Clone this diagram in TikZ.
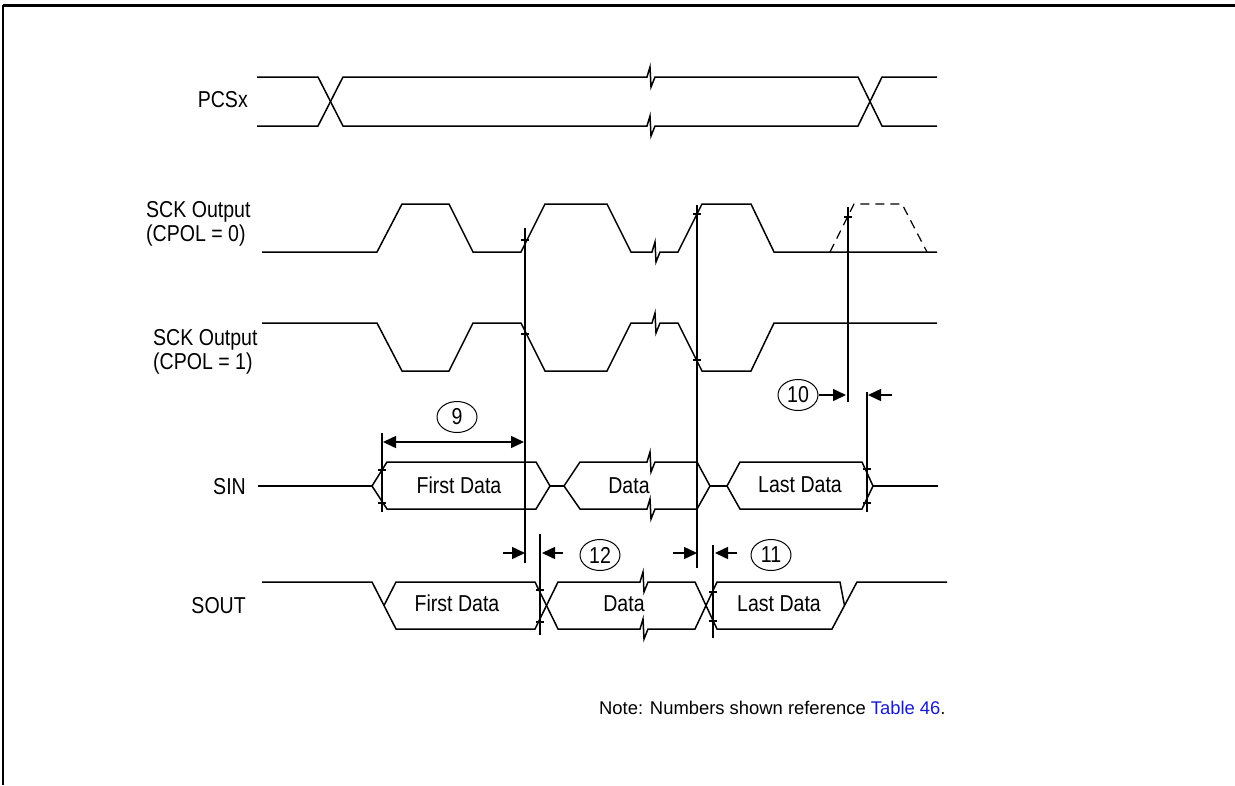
\documentclass[tikz,border=0pt]{standalone}
\usepackage{fontspec}
\setmainfont[FakeStretch=0.85]{Liberation Sans}
\newfontfamily\notefont{Liberation Sans}
\usetikzlibrary{arrows.meta,shapes.geometric}
\definecolor{linkblue}{RGB}{25,25,205}
\newcommand\brk{-- ++(3,-10) -- ++(1,20) -- ++(4,-10)}
\begin{document}
\begin{tikzpicture}[x=1pt,y=-1pt,
  sig/.style={line width=1.5pt,line join=miter},
  guide/.style={line width=1.6pt},
  tick/.style={line width=1.4pt},
  dim/.style={line width=1.5pt,-{Triangle[length=13pt,width=12pt]}},
  ddim/.style={line width=1.5pt,{Triangle[length=13pt,width=12pt]}-{Triangle[length=13pt,width=12pt]}},
  lbl/.style={inner sep=0pt,font=\fontsize{23}{24}\selectfont},
  num/.style={draw,ellipse,line width=1pt,minimum width=40pt,minimum height=31pt,inner sep=0pt,font=\fontsize{23}{24}\selectfont},
  notes/.style={inner sep=0pt,font=\notefont\fontsize{18.4}{22}\selectfont}]
\useasboundingbox (0,0) rectangle (1235,785);
% frame
\draw[line width=3pt] (3,5) -- (1235,5);
\draw[line width=1.6pt] (3,5) -- (3,785);

% labels
\node[lbl,anchor=base east] (lpcs) at (248,107) {PCSx};
\node[lbl,anchor=west,align=left] (lsck0) at (146,224) {SCK Output\\(CPOL = 0)};
\node[lbl,anchor=west,align=left] (lsck1) at (153,352) {SCK Output\\(CPOL = 1)};
\node[lbl,anchor=base east] (lsin) at (246,494) {SIN};
\node[lbl,anchor=base east] (lsout) at (246,613) {SOUT};

% PCSx
\draw[sig] (257,77) -- (318,77) -- (343,126) -- (647,126) \brk -- (858,126) -- (882,77) -- (937,77);
\draw[sig] (257,126) -- (318,126) -- (343,77) -- (647,77) \brk -- (858,77) -- (882,126) -- (937,126);

% SCK CPOL=0
\draw[sig] (262,252) -- (377,252) -- (402,204) -- (449,204) -- (473,252) -- (521,252) -- (545,204) -- (607,204) -- (631,252) -- (652,252) \brk -- (678,252) -- (702,204) -- (751,204) -- (774,252) -- (937,252);
\draw[line width=1.2pt,dash pattern=on 9pt off 6pt] (830,252) -- (854,204) -- (902,204) -- (927,252);

% SCK CPOL=1
\draw[sig] (262,323) -- (377,323) -- (402,371) -- (449,371) -- (473,323) -- (521,323) -- (545,371) -- (607,371) -- (631,323) -- (652,323) \brk -- (678,323) -- (702,371) -- (751,371) -- (774,323) -- (937,323);

% SIN
\draw[sig] (258,486) -- (372,486);
\draw[sig] (372,486) -- (387,462) -- (536,462) -- (550,486) -- (536,509) -- (387,509) -- cycle;
\draw[sig] (550,486) -- (564,486);
\draw[sig] (564,486) -- (580,462) -- (647,462) \brk -- (697,462) -- (710,486);
\draw[sig] (564,486) -- (580,509) -- (647,509) \brk -- (697,509) -- (710,486);
\draw[sig] (710,486) -- (727,486);
\draw[sig] (727,486) -- (740,462) -- (862,462) -- (873,486) -- (862,509) -- (740,509) -- cycle;
\draw[sig] (873,486) -- (938,486);
\node[lbl,anchor=base] (sin1) at (459,493) {First Data};
\node[lbl,anchor=base] (sin2) at (629,493) {Data};
\node[lbl,anchor=base] (sin3) at (800,492) {Last Data};

% SOUT
\draw[sig] (262,582) -- (372,582) -- (396,629) -- (535,629) -- (558,582) -- (640,582) \brk -- (695,582) -- (717,629) -- (832,629) -- (857,582) -- (947,582);
\draw[sig] (384,605.5) -- (396,582) -- (535,582) -- (558,629) -- (640,629) \brk -- (695,629) -- (717,582) -- (840,582) -- (844.5,605.5);
\node[lbl,anchor=base] (sout1) at (457,611) {First Data};
\node[lbl,anchor=base] (sout2) at (624,611) {Data};
\node[lbl,anchor=base] (sout3) at (779,611) {Last Data};

% guide lines
\coordinate (v0t) at (382,433); \coordinate (v0b) at (382,512);
\coordinate (v1t) at (525,228); \coordinate (v1b) at (525,563);
\coordinate (v2t) at (697,205); \coordinate (v2b) at (697,568);
\coordinate (v3t) at (848,207); \coordinate (v3b) at (848,402);
\coordinate (v4t) at (867,392); \coordinate (v4b) at (867,512);
\coordinate (v5t) at (540,534); \coordinate (v5b) at (540,635);
\coordinate (v6t) at (713,545); \coordinate (v6b) at (713,638);
\foreach \t/\b in {v0t/v0b,v1t/v1b,v2t/v2b,v3t/v3b,v4t/v4b,v5t/v5b,v6t/v6b}
  \draw[guide] (\t) -- (\b);
% ticks
\foreach \x/\y in {382/470,382/503,525/240,525/334,697/214,697/360,848/217,867/469,867/503,540/590,540/622,713/592,713/621}
  \draw[tick] (\x-4,\y) -- (\x+4,\y);

% dimension 9
\coordinate (d9a) at (383,442); \coordinate (d9b) at (524,442);
\draw[ddim] (d9a) -- (d9b);
\node[num] (n9) at (457,417) {9};

% dimension 10
\coordinate (d10a) at (846,395); \coordinate (d10b) at (868,395);
\coordinate (d10r) at (892,395);
\node[num] (n10) at (798,395) {10};
\draw[dim] (n10.east) -- (d10a);
\draw[dim] (d10r) -- (d10b);

% dimension 12
\coordinate (d12l) at (503,553); \coordinate (d12a) at (525,553);
\coordinate (d12b) at (542,553); \coordinate (d12r) at (563,553);
\draw[dim] (d12l) -- (d12a);
\draw[dim] (d12r) -- (d12b);
\node[num] (n12) at (600,555) {12};

% dimension 11
\coordinate (d11l) at (673,553); \coordinate (d11a) at (697,553);
\coordinate (d11b) at (715,553); \coordinate (d11r) at (737,553);
\draw[dim] (d11l) -- (d11a);
\draw[dim] (d11r) -- (d11b);
\node[num] (n11) at (771,555) {11};

% note
\node[notes,anchor=base west] (note) at (599,714) {Note: Numbers shown reference \textcolor{linkblue}{Table 46}.};
\end{tikzpicture}
\end{document}
